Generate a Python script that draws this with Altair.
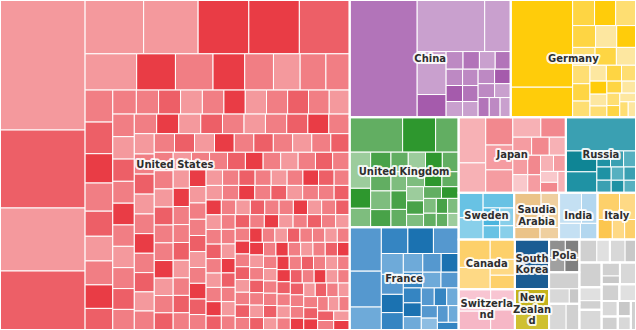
import altair as alt
import pandas as pd

W, H = 636, 330
LINE_HEIGHT = 11.5

# ---------------- data ----------------
COUNTRIES = ["United States", "China", "Germany", "United Kingdom", "France", "Japan",
             "Russia", "Sweden", "Saudia Arabia", "India", "Italy", "Canada",
             "Switzerland", "South Korea", "New Zealand", "Poland"]
COUNTRY_VALUES = [1155, 189, 147, 120, 112, 81, 53, 26, 21, 18, 18, 28, 23, 17, 14, 10]
LABELS = ["United States", "China", "Germany", "United Kingdom", "France", "Japan",
          "Russia", "Sweden", "Saudia\nArabia", "India", "Italy", "Canada",
          "Switzerla\nnd", "South\nKorea", "New\nZealan\nd", "Pola"]
PALETTE_KEYS = ["us", "china", "germany", "uk", "france", "japan", "russia", "sweden",
                "saudi", "india", "gold", "gold", "swiss", "korea", "nz", "poland"]

GREY_NAMES = ["Israel", "Netherlands", "Spain", "Australia", "Belgium", "Denmark", "Norway",
              "Austria", "Finland", "Brazil", "Singapore", "Turkey", "Taiwan", "Iran",
              "Greece", "Portugal"]
GREY_VALUES = [9.5, 8.0, 7.0, 6.0, 5.5, 5.0, 4.5, 4.0, 3.5, 3.0, 2.8, 2.5, 2.2, 2.0, 1.8, 1.5]
GREY_SUBS = [[5, 3, 1.5], [4.5, 3.5], [4, 3], [3.5, 2.5], [5.5], [3, 2], [4.5], [2.5, 1.5],
             [3.5], [3], [2.8], [2.5], [2.2], [2], [1.8], [1.5]]
GREY_SHADES = [[2, 1, 3], [1, 2], [2, 0], [1, 3], [2], [0, 2], [1], [2, 3], [1], [2], [0],
               [1], [2], [3], [1], [2]]

US_VALUES = [
    10360, 6210, 5020, 4700,
    2950, 2745, 2555, 2545, 2535,
    1750, 1315, 1275, 1075, 975, 905, 875, 805,
    830, 820, 760, 730, 650, 640, 620, 610, 560, 530,
    500, 495, 490, 485, 480, 478, 475, 470, 465, 460, 455,
    452, 447, 441, 438, 431, 429, 422, 419, 415, 411,
    406, 404, 399, 396, 393, 391, 388, 385, 383, 379,
    376, 374, 371, 368, 366, 362, 360, 357, 355, 352,
    349, 347, 344, 341, 339, 336, 333, 331, 328, 326,
    323, 321, 318, 316, 313, 311, 309, 306, 304, 302,
    299, 297, 295, 293, 290, 288, 286, 284, 281, 279,
    277, 275, 272, 270, 268, 266, 264, 262, 259, 257,
    255, 253, 251, 249, 247, 245, 243, 241, 239, 237,
    235, 233, 231, 229, 227,
    226, 225, 223, 222, 220, 219, 218, 216, 215, 214,
    212, 211, 210, 209, 207, 206, 205, 204, 203, 201,
    200, 199, 198, 197, 196, 195, 194, 193, 192, 191,
    190, 189, 188, 187, 186, 185, 184, 183, 182, 181,
    180, 179, 178, 177, 176, 175, 174, 173, 172, 171,
    170, 170, 169, 169, 168, 168, 167, 167, 166, 166,
    165, 164, 164, 163, 163, 162, 162, 161, 161, 160,
    160, 159, 159, 158, 158, 157, 157, 156, 156, 155,
    155, 154, 154, 153, 153, 152, 152, 151, 151, 150,
    150, 150, 149, 149, 149, 148, 148, 148, 147, 147,
    147, 146, 146, 146, 145, 145, 145, 144, 144, 144,
    143, 143, 143, 142, 142,
]
US_SHADES = [
    1, 3, 1, 3,
    1, 1, 4, 4, 3,
    1, 4, 2, 4, 2, 1, 2, 2,
    2, 3, 4, 2, 3, 1, 2, 4, 3, 2,
    2, 3, 1, 2, 4, 1, 2, 3, 2, 1, 2,
    1, 3, 2, 4, 2, 1, 2, 3, 2, 2,
    4, 1, 3, 2, 1, 2, 3, 4, 2, 1,
    2, 3, 1, 2, 4, 2, 3, 1, 2, 2,
    3, 1, 4, 2, 3, 2, 1, 2, 3, 2,
    2, 1, 3, 2, 2, 4, 1, 2, 3, 1,
    2, 2, 3, 4, 2, 1, 2, 3, 2, 1,
    4, 2, 2, 3, 1, 2, 3, 2, 4, 1,
    2, 2, 3, 1, 2, 4, 3, 2, 1, 2,
    3, 2, 1, 2, 4,
    3, 2, 1, 2, 4, 2, 3, 1, 2, 2,
    3, 4, 1, 2, 3, 2, 1, 2, 4, 3,
    2, 1, 3, 2, 2, 4, 1, 2, 3, 2,
    2, 1, 4, 3, 2, 1, 2, 3, 2, 4,
    1, 2, 3, 2, 1, 2, 4, 2, 3, 1,
    2, 3, 2, 4, 2, 1, 3, 2, 2, 1,
    2, 4, 1, 2, 3, 2, 1, 3, 2, 4,
    2, 1, 2, 3, 4, 2, 1, 2, 2, 3,
    1, 4, 2, 3, 2, 1, 2, 4, 3, 2,
    1, 2, 3, 2, 4, 1, 2, 3, 2, 2,
    4, 1, 3, 2, 1, 2, 3, 4, 2, 1,
    2, 3, 2, 1, 4,
]
CHINA_VALUES = [7956, 3500, 1350, 1250, 660, 300, 290, 280, 275, 270, 265, 260, 255, 250,
                245, 240, 235, 230, 225, 220, 215, 210]
CHINA_SHADES = [3, 1, 1, 1, 4, 2, 3, 1, 3, 2, 4, 1, 2, 3, 1, 2, 4, 2, 1, 3, 2, 1]
GERMANY_VALUES = [5394, 1860, 560, 540, 520, 500, 460, 420, 400, 380, 350, 320, 300, 280,
                  260, 240, 230, 220, 200, 190, 180, 170, 160, 150, 140, 130, 120]
GERMANY_SHADES = [3, 3, 2, 3, 1, 2, 0, 3, 1, 2, 0, 1, 2, 1, 0, 2, 1, 3, 0, 1, 2, 0, 1, 2, 0, 1, 0]
UK_VALUES = [1855, 1155, 805, 760, 420, 400, 400, 390, 380, 360, 340, 340, 330, 320, 300,
             290, 280, 270, 260, 250, 240, 230, 220, 210, 200, 190, 180, 170, 165, 160, 150]
UK_SHADES = [2, 4, 2, 0, 4, 1, 3, 2, 1, 3, 2, 0, 4, 2, 1, 3, 2, 1, 4, 2, 0, 3, 1, 2, 4, 1,
             2, 3, 1, 2, 0]
FRANCE_VALUES = [1452, 1188, 760, 728, 700, 690, 480, 460, 420, 400, 380, 360, 340, 320,
                 300, 290, 280, 260, 250, 240, 230, 220, 210, 200, 190, 180, 170]
FRANCE_SHADES = [2, 2, 1, 3, 4, 2, 1, 2, 4, 3, 1, 2, 4, 3, 1, 2, 3, 4, 1, 2, 3, 1, 2, 0, 2, 1, 3]
JAPAN_VALUES = [1242, 810, 756, 675, 621, 560, 500, 340, 320, 300, 290, 270, 250, 230, 210,
                200, 190, 180, 170]
JAPAN_SHADES = [1, 1, 3, 2, 2, 1, 3, 2, 3, 1, 2, 0, 3, 2, 1, 2, 0, 3, 1]
RUSSIA_VALUES = [2380, 651, 651, 220, 210, 200, 190, 180, 170, 160, 160, 150]
RUSSIA_SHADES = [2, 4, 3, 3, 2, 1, 3, 2, 1, 2, 3, 1]
SWEDEN_VALUES = [620, 540, 480, 300, 260, 230, 200]
SWEDEN_SHADES = [2, 1, 2, 3, 1, 2, 1]
SAUDI_VALUES = [900, 600, 300, 220]
SAUDI_SHADES = [2, 1, 2, 1]
INDIA_VALUES = [700, 500, 350, 280]
INDIA_SHADES = [1, 2, 1, 2]
ITALY_VALUES = [600, 450, 300, 250, 230]
ITALY_SHADES = [2, 1, 3, 1, 2]
CANADA_VALUES = [900, 700, 500, 400, 350]
CANADA_SHADES = [2, 1, 2, 1, 2]
SWISS_VALUES = [700, 600, 500, 480]
SWISS_SHADES = [1, 2, 1, 2]
KOREA_VALUES = [1700]
KOREA_SHADES = [3]
NZ_VALUES = [800, 560]
NZ_SHADES = [3, 2]
POLAND_VALUES = [300, 260, 240, 220]
POLAND_SHADES = [2, 3, 1, 3]

PALETTES = {
    "us": ["#f7b3b6", "#f4999d", "#f17e84", "#ed5f67", "#e93c45"],
    "china": ["#d8bddc", "#c9a0ce", "#bd89c3", "#b274b9", "#a55bac"],
    "germany": ["#fde7a0", "#fede72", "#fed543", "#ffcc0a", "#f8c100"],
    "uk": ["#9ccc9c", "#7ebd7e", "#62ae62", "#48a248", "#2e972e"],
    "france": ["#8dbde2", "#6eaad9", "#5598cf", "#3585c2", "#1b72b1"],
    "japan": ["#f9c8cb", "#f7b1b5", "#f59ca1", "#f2888e", "#ef737a"],
    "russia": ["#7dc3cf", "#56b0c0", "#3aa0b2", "#1f92a4", "#0f8595"],
    "sweden": ["#a8dcef", "#88cfea", "#68c2e4", "#4bb5de", "#2fa8d8"],
    "saudi": ["#f3dbb4", "#efcf9f", "#ebc388", "#e6b774", "#e0a95c"],
    "india": ["#d5e9f6", "#c4e0f3", "#b3d7ef", "#a1cdea", "#8cc1e4"],
    "gold": ["#fee3a0", "#fed985", "#fdd06a", "#fcc64f", "#fbbc36"],
    "swiss": ["#fad3de", "#f8c5d2", "#f6b7c6", "#f3a8ba", "#f099ae"],
    "korea": ["#3a7ab0", "#2a6ca4", "#21649c", "#1a5c93", "#134f84"],
    "nz": ["#e3d97a", "#d9cc52", "#cfc030", "#c5b31a", "#b8a50c"],
    "poland": ["#b0b0b0", "#a0a0a0", "#909090", "#808080", "#707070"],
    "grey": ["#e0e0e0", "#d8d8d8", "#d0d0d0", "#c8c8c8", "#bdbdbd"],
}

SUBS = [(US_VALUES, US_SHADES), (CHINA_VALUES, CHINA_SHADES), (GERMANY_VALUES, GERMANY_SHADES),
        (UK_VALUES, UK_SHADES), (FRANCE_VALUES, FRANCE_SHADES), (JAPAN_VALUES, JAPAN_SHADES),
        (RUSSIA_VALUES, RUSSIA_SHADES), (SWEDEN_VALUES, SWEDEN_SHADES),
        (SAUDI_VALUES, SAUDI_SHADES), (INDIA_VALUES, INDIA_SHADES),
        (ITALY_VALUES, ITALY_SHADES), (CANADA_VALUES, CANADA_SHADES),
        (SWISS_VALUES, SWISS_SHADES), (KOREA_VALUES, KOREA_SHADES), (NZ_VALUES, NZ_SHADES),
        (POLAND_VALUES, POLAND_SHADES)]


# ---------------- squarified treemap layout ----------------
def worst(row, side):
    t = sum(row) / side
    return max(max(v / (t * t), (t * t) / v) for v in row)


def build_row(vals, i, side):
    row = [vals[i]]
    best = worst(row, side)
    j = i + 1
    while j < len(vals):
        cand = row + [vals[j]]
        wv = worst(cand, side)
        if wv > best:
            break
        row, best = cand, wv
        j += 1
    return row, best


def squarify(vals, x0, y0, x1, y1, mode):
    total = sum(vals)
    area = (x1 - x0) * (y1 - y0)
    scaled = [v * area / total for v in vals]
    rects = []
    i = 0
    while i < len(scaled):
        w, h = x1 - x0, y1 - y0
        rowH, wH = build_row(scaled, i, w)
        rowV, wV = build_row(scaled, i, h)
        if mode == "best":
            horizontal = wH <= wV
        else:
            horizontal = w < h
        row = rowH if horizontal else rowV
        last = i + len(row) == len(scaled)
        s = sum(row)
        if horizontal:
            t = h if last else s / w
            cx = x0
            for k, v in enumerate(row):
                nx = x1 if k == len(row) - 1 else cx + v / t
                rects.append((cx, y0, nx, y0 + t))
                cx = nx
            y0 += t
        else:
            t = w if last else s / h
            cy = y0
            for k, v in enumerate(row):
                ny = y1 if k == len(row) - 1 else cy + v / t
                rects.append((x0, cy, x0 + t, ny))
                cy = ny
            x0 += t
        i += len(row)
    return rects


all_values = COUNTRY_VALUES + GREY_VALUES
all_labels = LABELS + [""] * len(GREY_NAMES)
all_pal = PALETTE_KEYS + ["grey"] * len(GREY_NAMES)
all_subs = SUBS + list(zip(GREY_SUBS, GREY_SHADES))

top = squarify(all_values, 0, 0, W, H, "best")

tile_rows, country_rows = [], []
for (cx0, cy0, cx1, cy1), label, pal, (sv, ss) in zip(top, all_labels, all_pal, all_subs):
    n_lines = label.count("\n") + 1
    country_rows.append(dict(x=cx0, x2=cx1, y=cy0, y2=cy1, label=label,
                             cx=(cx0 + cx1) / 2,
                             cy=(cy0 + cy1) / 2 - (n_lines - 1) * LINE_HEIGHT / 2))
    for (a, b, c, d), shade in zip(squarify(sv, cx0, cy0, cx1, cy1, "short"), ss):
        tile_rows.append(dict(x=a, y=b, x2=c, y2=d, ckey=f"{pal}-{shade}"))

tiles_df = pd.DataFrame(tile_rows)
country_df = pd.DataFrame(country_rows)
label_df = country_df[country_df["label"] != ""]

keys, colors = [], []
for name, cols in PALETTES.items():
    for lvl, col in enumerate(cols):
        keys.append(f"{name}-{lvl}")
        colors.append(col)

xs = alt.Scale(domain=[0, W], nice=False, zero=False)
ys = alt.Scale(domain=[0, H], nice=False, zero=False, reverse=True)

tiles = alt.Chart(tiles_df).mark_rect(stroke="white", strokeWidth=1).encode(
    x=alt.X("x:Q", scale=xs, axis=None),
    x2="x2:Q",
    y=alt.Y("y:Q", scale=ys, axis=None),
    y2="y2:Q",
    color=alt.Color("ckey:N", scale=alt.Scale(domain=keys, range=colors), legend=None),
)

borders = alt.Chart(country_df).mark_rect(fillOpacity=0, stroke="white", strokeWidth=2).encode(
    x=alt.X("x:Q", scale=xs, axis=None),
    x2="x2:Q",
    y=alt.Y("y:Q", scale=ys, axis=None),
    y2="y2:Q",
)

text_props = dict(font="DejaVu Sans", fontSize=10, fontWeight="bold", align="center",
                  baseline="middle", lineBreak="\n", lineHeight=LINE_HEIGHT)

halo = alt.Chart(label_df).mark_text(color="white", stroke="white", strokeWidth=4,
                                     strokeJoin="round", strokeOpacity=0.9,
                                     **text_props).encode(
    x=alt.X("cx:Q", scale=xs, axis=None),
    y=alt.Y("cy:Q", scale=ys, axis=None),
    text="label:N",
)

labels = alt.Chart(label_df).mark_text(color="#2e2e2e", **text_props).encode(
    x=alt.X("cx:Q", scale=xs, axis=None),
    y=alt.Y("cy:Q", scale=ys, axis=None),
    text="label:N",
)

chart = alt.layer(tiles, borders, halo, labels).properties(
    width=W, height=H, padding=0, autosize="none", background="white"
).configure_view(stroke=None)

chart.save("out.html", embed_options={"renderer": "svg", "actions": False})
